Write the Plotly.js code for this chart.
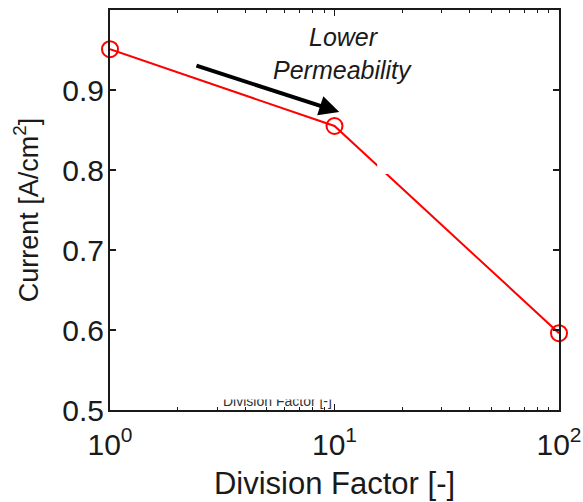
<!DOCTYPE html>
<html>
<head>
<meta charset="utf-8">
<script src="https://cdn.plot.ly/plotly-3.0.1.min.js"></script>
<style>html,body{margin:0;padding:0;background:#fff;}#chart{width:583px;height:502px;}</style>
</head>
<body>
<div id="chart"></div>
<script>
const divisionFactor = [1, 10, 100];
const current = [0.951, 0.855, 0.596];
const xTickVals = [1, 10, 100];
const xTickText = ['10<sup>0</sup>', '10<sup>1</sup>', '10<sup>2</sup>'];
const yTickVals = [0.5, 0.6, 0.7, 0.8, 0.9];
const yTickText = ['0.5', '0.6', '0.7', '0.8', '0.9'];
const minorX = [2,3,4,5,6,7,8,9,20,30,40,50,60,70,80,90];

const font = 'Liberation Sans, Arial, sans-serif';
const ink = '#1a1a1a';

const trace = {
  x: divisionFactor, y: current, type: 'scatter', mode: 'lines+markers',
  line: {color: '#ff0000', width: 2},
  marker: {symbol: 'circle-open', size: 16, color: '#ff0000', line: {width: 2, color: '#ff0000'}},
  cliponaxis: false, showlegend: false, hoverinfo: 'skip'
};

const layout = {
  width: 583, height: 502,
  margin: {l: 110, r: 24, t: 10, b: 92},
  paper_bgcolor: '#fff', plot_bgcolor: '#fff',
  font: {family: font, color: ink},
  xaxis: {
    type: 'log', range: [0, 2],
    tickvals: xTickVals, ticktext: xTickText,
    ticks: 'inside', ticklen: 6, tickwidth: 1.5, tickcolor: ink,
    minor: {tickvals: minorX, ticks: 'inside', ticklen: 3, tickcolor: ink, tickwidth: 1},
    mirror: 'ticks', showline: true, linecolor: ink, linewidth: 2,
    showgrid: false, zeroline: false,
    tickfont: {size: 30, family: font, color: ink},
    ticklabelstandoff: 7,
    title: {text: 'Division Factor [-]', font: {size: 31, family: font, color: ink}, standoff: 12}
  },
  yaxis: {
    range: [0.5, 1.0],
    tickvals: yTickVals, ticktext: yTickText,
    ticks: 'inside', ticklen: 6, tickwidth: 1.5, tickcolor: ink,
    mirror: 'ticks', showline: true, linecolor: ink, linewidth: 2,
    showgrid: false, zeroline: false,
    tickfont: {size: 30, family: font, color: ink},
    ticklabelstandoff: -2,
    title: {text: 'Current [A/cm<sup>2</sup>]', font: {size: 27, family: font, color: ink}, standoff: 16}
  },
  shapes: [
    {type: 'rect', xref: 'paper', yref: 'paper', x0: 0.595, x1: 0.62, y0: 0.59, y1: 0.62,
     fillcolor: '#fff', line: {width: 0}, layer: 'above'}
  ],
  annotations: [
    {xref: 'x', yref: 'y', x: Math.log10(10.5), y: 0.8725, ax: Math.log10(2.39), ay: 0.931,
     axref: 'x', ayref: 'y', showarrow: true, arrowhead: 2, arrowsize: 1, arrowwidth: 4, arrowcolor: '#000', text: ''},
    {xref: 'x', yref: 'y', x: Math.log10(10.97), y: 0.966, text: '<i>Lower</i>', showarrow: false,
     font: {size: 25, family: font, color: ink}},
    {xref: 'x', yref: 'y', x: Math.log10(10.85), y: 0.925, text: '<i>Permeability</i>', showarrow: false,
     font: {size: 25, family: font, color: ink}},
    {xref: 'x', yref: 'y', x: Math.log10(5.56), y: 0.5115, text: 'Division Factor [-]', showarrow: false,
     font: {size: 14, family: font, color: '#333'}},
    {xref: 'x', yref: 'paper', x: Math.log10(5.56), y: 0.039, yanchor: 'middle', text: ' ', showarrow: false,
     width: 140, height: 9, borderpad: 0, bgcolor: '#fff', font: {size: 6}}
  ]
};

Plotly.newPlot('chart', [trace], layout, {displayModeBar: false, staticPlot: true});
</script>
</body>
</html>
